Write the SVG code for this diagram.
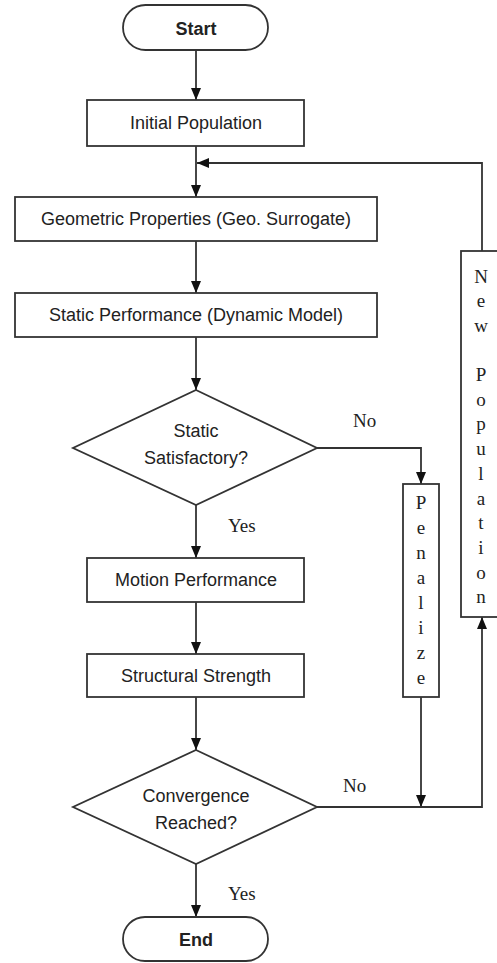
<svg xmlns="http://www.w3.org/2000/svg" width="497" height="963" viewBox="0 0 497 963">
<style>
.shape{fill:#fff;stroke:#333;stroke-width:1.8}
.lbl{font-family:"Liberation Sans",Arial,sans-serif;font-size:18px;fill:#222;text-anchor:middle;dominant-baseline:central}
.term{font-weight:bold}
.ser{font-family:"Liberation Serif","Times New Roman",serif;font-size:19px;fill:#222}
.vert{text-anchor:middle}
.conn{fill:none;stroke:#333;stroke-width:1.8}
</style>
<defs>
<marker id="arr" markerUnits="userSpaceOnUse" markerWidth="12" markerHeight="10" refX="12" refY="5" orient="auto">
<path d="M0,0 L12,5 L0,10 z" fill="#111"/>
</marker>
</defs>
<rect width="497" height="963" fill="#fff"/>
<g id="connectors">
<path class="conn" d="M196,50 V100" marker-end="url(#arr)"/>
<path class="conn" d="M196,146 V197" marker-end="url(#arr)"/>
<path class="conn" d="M196,241 V293" marker-end="url(#arr)"/>
<path class="conn" d="M196,337 V390" marker-end="url(#arr)"/>
<path class="conn" d="M196,505 V558" marker-end="url(#arr)"/>
<path class="conn" d="M196,602 V654" marker-end="url(#arr)"/>
<path class="conn" d="M196,697 V750" marker-end="url(#arr)"/>
<path class="conn" d="M196,864 V917" marker-end="url(#arr)"/>
<path class="conn" d="M317,448 H421 V484" marker-end="url(#arr)"/>
<path class="conn" d="M421,697 V807" marker-end="url(#arr)"/>
<path class="conn" d="M317,807 H482 V617" marker-end="url(#arr)"/>
<path class="conn" d="M482,251 V163 H197" marker-end="url(#arr)"/>
<text class="ser" x="353" y="427">No</text>
<text class="ser" x="343" y="792">No</text>
<text class="ser" x="228" y="532">Yes</text>
<text class="ser" x="228" y="900">Yes</text>
</g>
<g id="start">
<rect class="shape" x="123" y="5" width="145" height="45" rx="22.5"/>
<text class="lbl term" x="196" y="29">Start</text>
</g>
<g id="initial">
<rect class="shape" x="87" y="100" width="217" height="46"/>
<text class="lbl" x="196" y="123">Initial Population</text>
</g>
<g id="geometric">
<rect class="shape" x="15" y="197" width="362" height="44"/>
<text class="lbl" x="196" y="219">Geometric Properties (Geo. Surrogate)</text>
</g>
<g id="static">
<rect class="shape" x="15" y="293" width="362" height="44"/>
<text class="lbl" x="196" y="315">Static Performance (Dynamic Model)</text>
</g>
<g id="decision1">
<polygon class="shape" points="196,390 317,448 196,505 73,448"/>
<text class="lbl" x="196" y="431">Static</text>
<text class="lbl" x="196" y="458">Satisfactory?</text>
</g>
<g id="motion">
<rect class="shape" x="87" y="558" width="217" height="44"/>
<text class="lbl" x="196" y="580">Motion Performance</text>
</g>
<g id="structural">
<rect class="shape" x="87" y="654" width="217" height="43"/>
<text class="lbl" x="196" y="676">Structural Strength</text>
</g>
<g id="decision2">
<polygon class="shape" points="196,750 317,807 196,864 73,807"/>
<text class="lbl" x="196" y="796">Convergence</text>
<text class="lbl" x="196" y="823">Reached?</text>
</g>
<g id="end">
<rect class="shape" x="123" y="917" width="145" height="44" rx="22"/>
<text class="lbl term" x="196" y="940">End</text>
</g>
<g id="penalize">
<rect class="shape" x="403" y="484" width="36" height="213"/>
<text class="ser vert"><tspan x="421" y="509">P</tspan><tspan x="421" y="534">e</tspan><tspan x="421" y="559">n</tspan><tspan x="421" y="584">a</tspan><tspan x="421" y="609">l</tspan><tspan x="421" y="634">i</tspan><tspan x="421" y="659">z</tspan><tspan x="421" y="684">e</tspan></text>
</g>
<g id="newpop">
<rect class="shape" x="461" y="251" width="42" height="366"/>
<text class="ser vert"><tspan x="481" y="283">N</tspan><tspan x="481" y="307">e</tspan><tspan x="481" y="332">w</tspan><tspan x="481" y="381">P</tspan><tspan x="481" y="406">o</tspan><tspan x="481" y="430">p</tspan><tspan x="481" y="455">u</tspan><tspan x="481" y="480">l</tspan><tspan x="481" y="505">a</tspan><tspan x="481" y="529">t</tspan><tspan x="481" y="554">i</tspan><tspan x="481" y="579">o</tspan><tspan x="481" y="603">n</tspan></text>
</g>
</svg>
